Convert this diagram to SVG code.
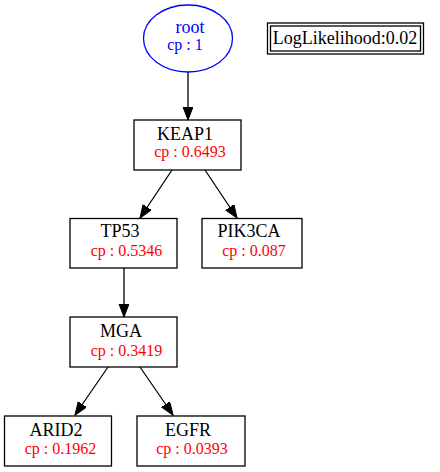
<svg xmlns="http://www.w3.org/2000/svg" width="440" height="472" viewBox="0 0 440 472">
<style>
.box{fill:#fff;stroke:#000;stroke-width:1.3}
.lbl{font-family:"Liberation Serif","Times New Roman",serif;font-size:18px;fill:#000;text-anchor:middle}
.cp{font-family:"Liberation Serif","Times New Roman",serif;font-size:16px;fill:#ff0000;text-anchor:middle}
.edge{stroke:#000;stroke-width:1.3;fill:none;marker-end:url(#ah)}
</style>
<defs>
<marker id="ah" markerUnits="userSpaceOnUse" markerWidth="14" markerHeight="11" refX="13" refY="5" orient="auto" viewBox="0 0 14 11">
<path d="M0,0 L13,5 L0,10 z" fill="#000" stroke="#000" stroke-width="1"/>
</marker>
</defs>
<rect width="440" height="472" fill="#fff"/>
<g id="connectors">
<line class="edge" x1="188" y1="72" x2="188" y2="120"/>
<line class="edge" x1="172" y1="170" x2="140" y2="218"/>
<line class="edge" x1="205" y1="170" x2="237" y2="218"/>
<line class="edge" x1="124" y1="268" x2="124" y2="317"/>
<line class="edge" x1="108" y1="367" x2="75" y2="415"/>
<line class="edge" x1="140" y1="367" x2="173" y2="415"/>
</g>
<g id="root">
<ellipse cx="188" cy="38.5" rx="44.5" ry="33.5" fill="#fff" stroke="#0000ff" stroke-width="1.3"/>
<text class="lbl" x="190" y="33" fill="#0000ff" style="fill:#0000ff">root</text>
<text class="cp" x="185" y="50" style="fill:#0000ff">cp : 1</text>
</g>
<g id="loglik">
<rect x="267.5" y="23" width="156" height="31" fill="#fff" stroke="#000" stroke-width="1.3"/>
<rect x="270.5" y="26" width="150" height="25" fill="none" stroke="#000" stroke-width="1.3"/>
<text class="lbl" x="345" y="44">LogLikelihood:0.02</text>
</g>
<g id="KEAP1">
<rect class="box" x="134" y="120" width="107" height="50"/>
<text class="lbl" x="185" y="140">KEAP1</text>
<text class="cp" x="190" y="157">cp : 0.6493</text>
</g>
<g id="TP53">
<rect class="box" x="70" y="218.5" width="107" height="49.5"/>
<text class="lbl" x="120" y="237">TP53</text>
<text class="cp" x="126.5" y="256">cp : 0.5346</text>
</g>
<g id="PIK3CA">
<rect class="box" x="202" y="218.5" width="100" height="49.5"/>
<text class="lbl" x="249" y="237">PIK3CA</text>
<text class="cp" x="254" y="256">cp : 0.087</text>
</g>
<g id="MGA">
<rect class="box" x="70" y="317" width="107" height="50"/>
<text class="lbl" x="121" y="337">MGA</text>
<text class="cp" x="126.5" y="356">cp : 0.3419</text>
</g>
<g id="ARID2">
<rect class="box" x="4.5" y="416" width="107" height="50"/>
<text class="lbl" x="56" y="436">ARID2</text>
<text class="cp" x="60.5" y="454">cp : 0.1962</text>
</g>
<g id="EGFR">
<rect class="box" x="137" y="416" width="108" height="50"/>
<text class="lbl" x="188" y="436">EGFR</text>
<text class="cp" x="192" y="454">cp : 0.0393</text>
</g>
</svg>
